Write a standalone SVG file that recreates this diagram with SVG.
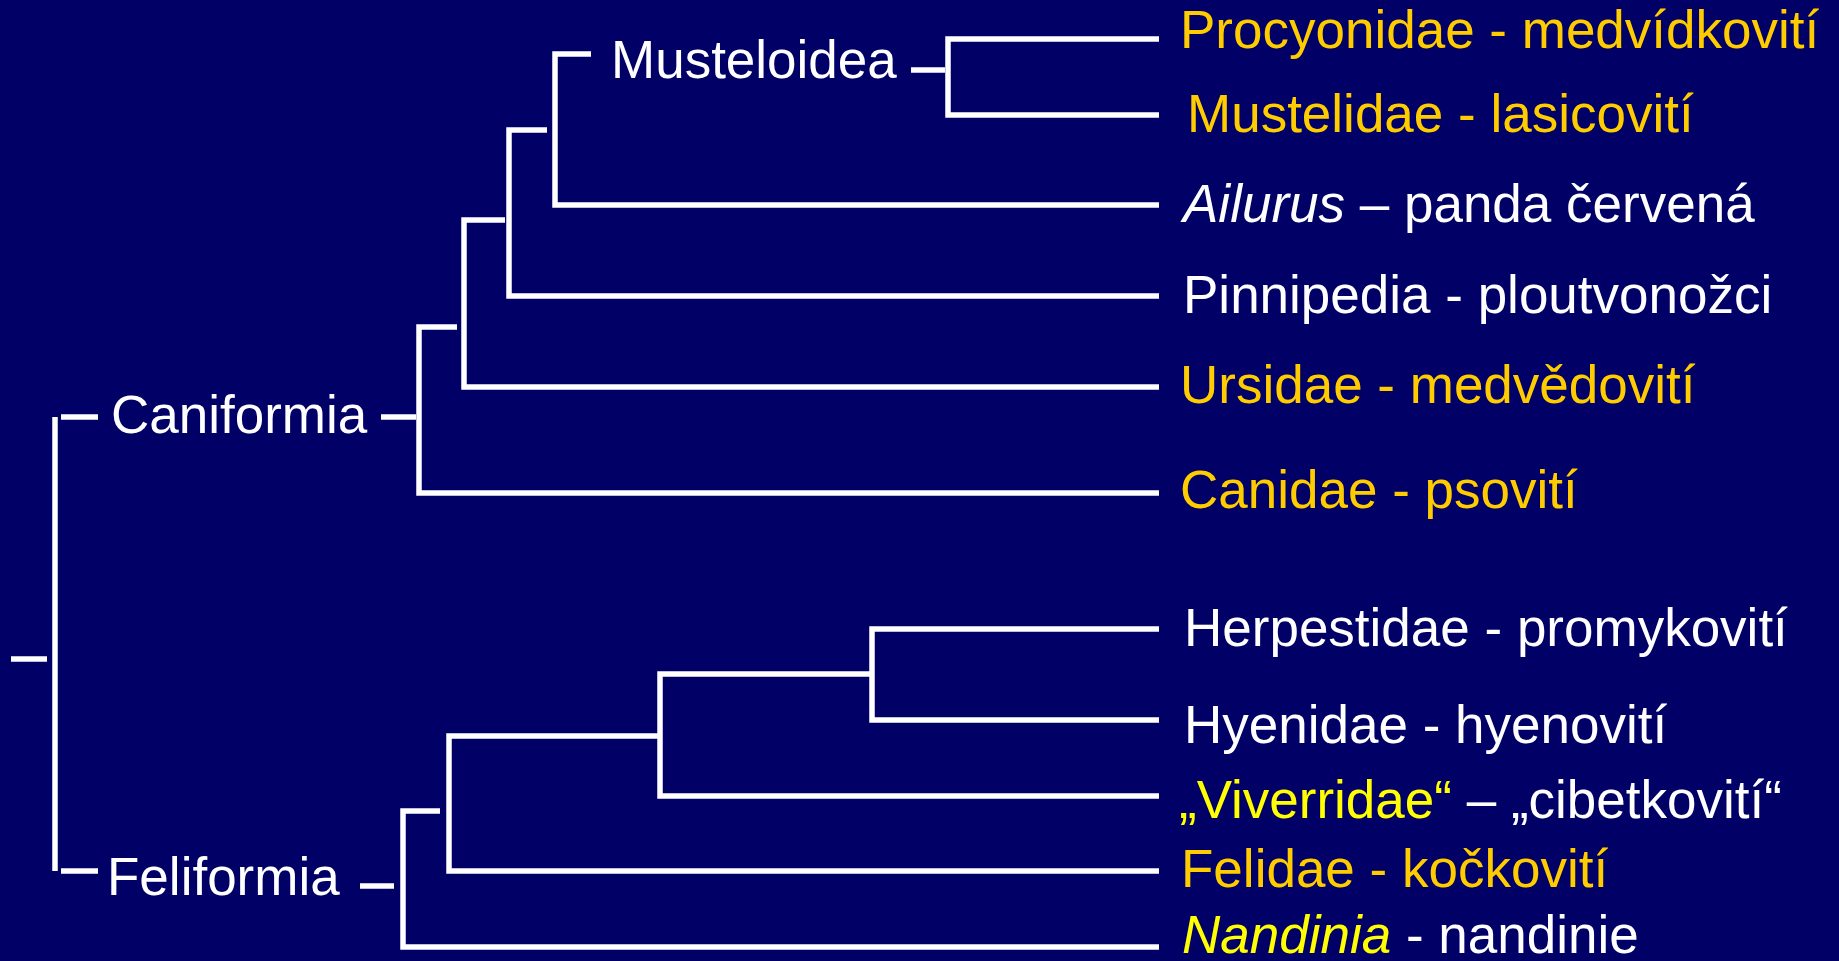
<svg xmlns="http://www.w3.org/2000/svg" width="1839" height="961" viewBox="0 0 1839 961">
<style>
.bg{fill:#000066}
.c path{fill:none;stroke:#ffffff;stroke-width:5.5;stroke-linecap:butt;stroke-linejoin:miter}
text{font-family:"Liberation Sans",Arial,sans-serif;font-size:53px}
.w{fill:#ffffff}
.o{fill:#ffcc00}
.y{fill:#ffff00}
.i{font-style:italic}
</style>
<rect class="bg" x="0" y="0" width="1839" height="961"/>
<g id="connectors" class="c">
<path d="M11 659 H47"/>
<path d="M55 417 V871"/>
<path d="M61 417 H98"/>
<path d="M381 417 H416"/>
<path d="M457 327 H419 V493 H1159"/>
<path d="M505 220 H464 V387 H1159"/>
<path d="M547 130 H509 V296 H1159"/>
<path d="M591 54 H555 V205 H1159"/>
<path d="M911 70 H945"/>
<path d="M1159 39 H948 V115 H1159"/>
<path d="M61 871 H98"/>
<path d="M360 886 H394"/>
<path d="M440 811 H403 V947 H1159"/>
<path d="M660 736 H449 V871 H1159"/>
<path d="M872 674 H660 V796 H1159"/>
<path d="M1159 629 H872 V720 H1159"/>
</g>
<g id="musteloidea"><text class="w" x="611" y="78">Musteloidea</text></g>
<g id="caniformia"><text class="w" x="111" y="433">Caniformia</text></g>
<g id="feliformia"><text class="w" x="107" y="895">Feliformia</text></g>
<g id="procyonidae"><text class="o" x="1180" y="48">Procyonidae - medvídkovití</text></g>
<g id="mustelidae"><text class="o" x="1187" y="132">Mustelidae - lasicovití</text></g>
<g id="ailurus"><text class="w" x="1183" y="222"><tspan class="i">Ailurus</tspan> – panda červená</text></g>
<g id="pinnipedia"><text class="w" x="1183" y="313">Pinnipedia - ploutvonožci</text></g>
<g id="ursidae"><text class="o" x="1180" y="403">Ursidae - medvědovití</text></g>
<g id="canidae"><text class="o" x="1180" y="508">Canidae - psovití</text></g>
<g id="herpestidae"><text class="w" x="1184" y="646">Herpestidae - promykovití</text></g>
<g id="hyenidae"><text class="w" x="1184" y="743">Hyenidae - hyenovití</text></g>
<g id="viverridae"><text class="w" x="1179" y="818"><tspan class="y">„Viverridae“</tspan> – „cibetkovití“</text></g>
<g id="felidae"><text class="o" x="1181" y="887">Felidae - kočkovití</text></g>
<g id="nandinia"><text class="w" x="1182" y="953"><tspan class="y i">Nandinia</tspan> - nandinie</text></g>
</svg>
